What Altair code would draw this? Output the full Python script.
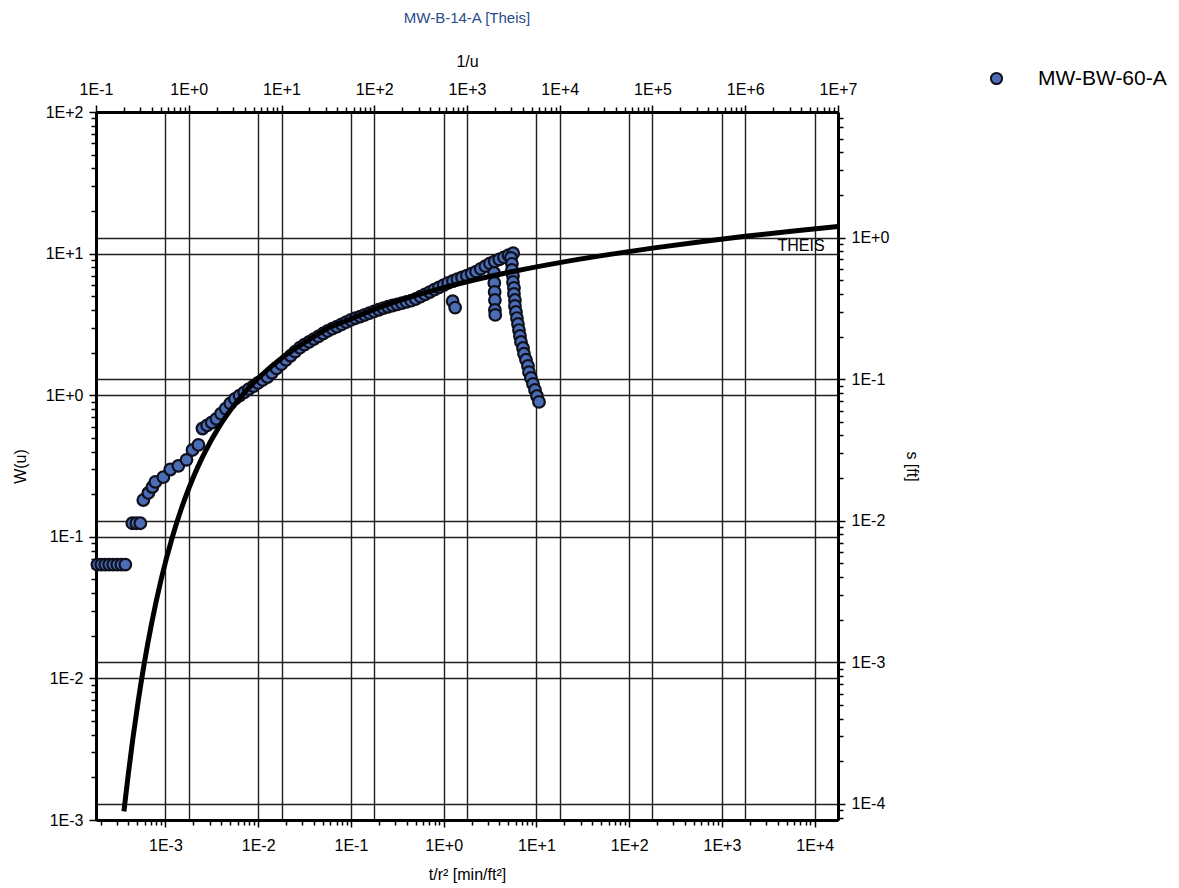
import altair as alt
import pandas as pd

# ---------------- data ----------------
# Theis type curve: 1/u (top axis) vs W(u) (left axis)
theis_inv_u = [0.2, 0.2222, 0.25, 0.2857, 0.3333, 0.4, 0.5, 0.6667, 0.8333, 1.0, 1.25,
               1.667, 2.0, 2.5, 3.333, 5.0, 6.667, 10.0, 20.0, 33.33, 50.0, 100.0, 200.0,
               333.3, 500.0, 1000.0, 3333.0, 1.0e4, 3.333e4, 1.0e5, 3.333e5, 1.0e6,
               3.333e6, 1.0e7]
theis_w = [0.00115, 0.00207, 0.00378, 0.00697, 0.01305, 0.0249, 0.0489, 0.1000, 0.1584,
           0.2194, 0.3106, 0.4544, 0.5598, 0.7024, 0.9057, 1.2227, 1.4645, 1.8229, 2.4679,
           3.0133, 3.3547, 4.0379, 4.7261, 5.2349, 5.6394, 6.3315, 7.5348, 8.6332, 9.8374,
           10.9357, 12.14, 13.2383, 14.44, 15.5409]

# Observation well MW-BW-60-A: t/r^2 [min/ft^2] (bottom axis) vs s [ft] (right axis)
obs_t = [
    1.85e-4, 2.04e-4, 2.25e-4, 2.48e-4, 2.74e-4, 3.03e-4, 3.35e-4, 3.70e-4,
    4.40e-4, 4.86e-4, 5.37e-4,
    5.78e-4, 6.55e-4, 7.24e-4, 7.80e-4,
    9.5e-4, 1.13e-3, 1.38e-3, 1.69e-3, 1.96e-3, 2.27e-3,
    0.00251, 0.00282, 0.00316, 0.00355, 0.00398, 0.00447, 0.00501, 0.00562, 0.00631,
    0.00708, 0.00794, 0.00891, 0.0100, 0.0112, 0.0126, 0.0141, 0.0158, 0.0178, 0.0200,
    0.0224, 0.0251, 0.0282, 0.0316, 0.0355, 0.0398, 0.0447, 0.0501, 0.0562, 0.0631,
    0.0708, 0.0794, 0.0891, 0.100, 0.112, 0.126, 0.141, 0.158, 0.178, 0.200,
    0.224, 0.251, 0.282, 0.316, 0.355, 0.398, 0.447, 0.501, 0.562, 0.631,
    0.708, 0.794, 0.891, 1.00, 1.12, 1.26, 1.41, 1.58, 1.78, 2.00,
    2.24, 2.51, 2.82, 3.16, 3.55, 3.98, 4.47, 5.01, 5.62,
    1.25, 1.33,
    3.50, 3.52, 3.55, 3.57, 3.57, 3.60,
    5.32, 5.45, 5.45, 5.59, 5.59, 5.73, 5.73, 5.87, 5.87, 6.02, 6.17, 6.33, 6.49,
    6.65, 6.82, 7.17, 7.35, 7.72, 8.12, 8.32, 8.74, 9.19, 9.66, 10.15, 10.67,
]
obs_s = [
    0.0049, 0.0049, 0.0049, 0.0049, 0.0049, 0.0049, 0.0049, 0.0049,
    0.0096, 0.0096, 0.0096,
    0.0140, 0.0157, 0.0173, 0.0188,
    0.0203, 0.0230, 0.0244, 0.0269, 0.0316, 0.0343,
    0.0448, 0.0471, 0.0494, 0.0524, 0.0570, 0.0619, 0.0673, 0.0725, 0.0764,
    0.0807, 0.0851, 0.0893, 0.0940, 0.0987, 0.1035, 0.1109, 0.1191, 0.1276, 0.1368,
    0.1462, 0.1563, 0.1667, 0.1752, 0.1833, 0.1919, 0.2005, 0.2099, 0.2188, 0.2270,
    0.2350, 0.2438, 0.2529, 0.2618, 0.2692, 0.2767, 0.2844, 0.2924, 0.3006, 0.3090,
    0.3177, 0.3243, 0.3311, 0.3373, 0.3443, 0.3516, 0.3581, 0.3681, 0.3828, 0.3972,
    0.4121, 0.4285, 0.4446, 0.4613, 0.4786, 0.4932, 0.5082, 0.5224, 0.5383, 0.5546,
    0.5741, 0.6012, 0.6281, 0.6561, 0.6792, 0.7015, 0.7244, 0.7499, 0.7745,
    0.355, 0.320,
    0.562, 0.478, 0.413, 0.362, 0.308, 0.284,
    0.718, 0.652, 0.590, 0.536, 0.485, 0.441, 0.400, 0.362, 0.329, 0.298, 0.270, 0.245,
    0.222, 0.202, 0.183, 0.166, 0.151, 0.137, 0.124, 0.112, 0.102, 0.0925, 0.0839,
    0.0760, 0.0690,
]
series_name = "MW-BW-60-A"
curve_label = ["THEIS"]
curve_label_inv_u = [4.0e6]
curve_label_w = [11.3]

# axis domains (log)
inv_u_domain = [0.1, 1.0e7]
w_domain = [1.0e-3, 1.0e2]
t_domain = [1.786e-4, 1.786e4]
s_domain = [7.7e-5, 7.7]


def log_ticks(lo, hi):
    vals = []
    for e in range(-6, 9):
        for k in range(1, 10):
            v = float(f"{k}e{e}")
            if lo * 0.9999 <= v <= hi * 1.0001:
                vals.append(v)
    return vals


# ---------------- styling helpers ----------------
FONT = "Liberation Sans"
IS_MAJOR = "abs(log(datum.value)/LN10 - round(log(datum.value)/LN10)) < 0.000001"
LABEL_EXPR = (IS_MAJOR + " ? '1E' + (round(log(datum.value)/LN10) >= 0 ? '+' : '') + "
              "round(log(datum.value)/LN10) : ''")


def make_axis(orient, title, lo, hi, label_pad, title_pad, title_angle=None):
    kw = dict(
        orient=orient,
        title=title,
        values=log_ticks(lo, hi),
        labelExpr=LABEL_EXPR,
        labelOverlap=False,
        labelFlush=False,
        labelFont=FONT,
        labelFontSize=16,
        labelColor="black",
        labelPadding=label_pad,
        titleFont=FONT,
        titleFontSize=16,
        titleFontWeight="normal",
        titleColor="black",
        titlePadding=title_pad,
        grid=True,
        gridColor="#1e1e1e",
        gridWidth=1.4,
        gridOpacity={"condition": {"test": IS_MAJOR, "value": 1}, "value": 0},
        tickColor="black",
        tickWidth=1.5,
        tickSize={"condition": {"test": IS_MAJOR, "value": 7}, "value": 5},
        domainColor="black",
        domainWidth=3,
    )
    if title_angle is not None:
        kw["titleAngle"] = title_angle
    return alt.Axis(**kw)


curve_df = pd.DataFrame({"inv_u": theis_inv_u, "W": theis_w})
label_df = pd.DataFrame({"inv_u": curve_label_inv_u, "W": curve_label_w, "label": curve_label})
obs_df = pd.DataFrame({"t": obs_t, "s": obs_s, "series": [series_name] * len(obs_t)})

x_top = alt.X("inv_u:Q",
              scale=alt.Scale(type="log", domain=inv_u_domain, nice=False),
              axis=make_axis("top", "1/u", inv_u_domain[0], inv_u_domain[1], 8, 12))
y_left = alt.Y("W:Q",
               scale=alt.Scale(type="log", domain=w_domain, nice=False),
               axis=make_axis("left", "W(u)", w_domain[0], w_domain[1], 6, 17))

curve = alt.Chart(curve_df).mark_line(color="black", strokeWidth=5,
                                      interpolate="monotone").encode(x=x_top, y=y_left)
curve_text = alt.Chart(label_df).mark_text(font=FONT, fontSize=16, color="black",
                                           align="center", baseline="middle").encode(
    x=alt.X("inv_u:Q"), y=alt.Y("W:Q"), text="label:N")
curve_layer = alt.layer(curve, curve_text)

points = alt.Chart(obs_df).mark_point(
    filled=True, shape="circle", size=135, stroke="#10101c", strokeWidth=2.2, opacity=1
).encode(
    x=alt.X("t:Q", scale=alt.Scale(type="log", domain=t_domain, nice=False),
            axis=make_axis("bottom", "t/r² [min/ft²]", t_domain[0], t_domain[1], 10, 13)),
    y=alt.Y("s:Q", scale=alt.Scale(type="log", domain=s_domain, nice=False),
            axis=make_axis("right", "s [ft]", s_domain[0], s_domain[1], 6, 15, title_angle=90)),
    color=alt.Color("series:N",
                    scale=alt.Scale(range=["#4a6db5"]),
                    legend=alt.Legend(title=None, orient="none", legendX=890, legendY=-44,
                                      symbolType="circle", symbolSize=125,
                                      symbolStrokeColor="#10101c", symbolStrokeWidth=2.0,
                                      labelFont=FONT, labelFontSize=21, labelColor="black",
                                      labelOffset=31, padding=0)),
)

chart = alt.layer(points, curve_layer).resolve_scale(
    x="independent", y="independent"
).properties(
    width=742,
    height=708,
    autosize="none",
    padding={"left": 88, "top": 104, "right": 333, "bottom": 68},
    title=alt.TitleParams("MW-B-14-A [Theis]", font=FONT, fontSize=15, fontWeight="normal",
                          color="#2a4b8d", anchor="middle", offset=27),
).configure_view(stroke="black", strokeWidth=2).configure(background="white")

chart.save("out.html", embed_options={"renderer": "svg", "actions": False})
